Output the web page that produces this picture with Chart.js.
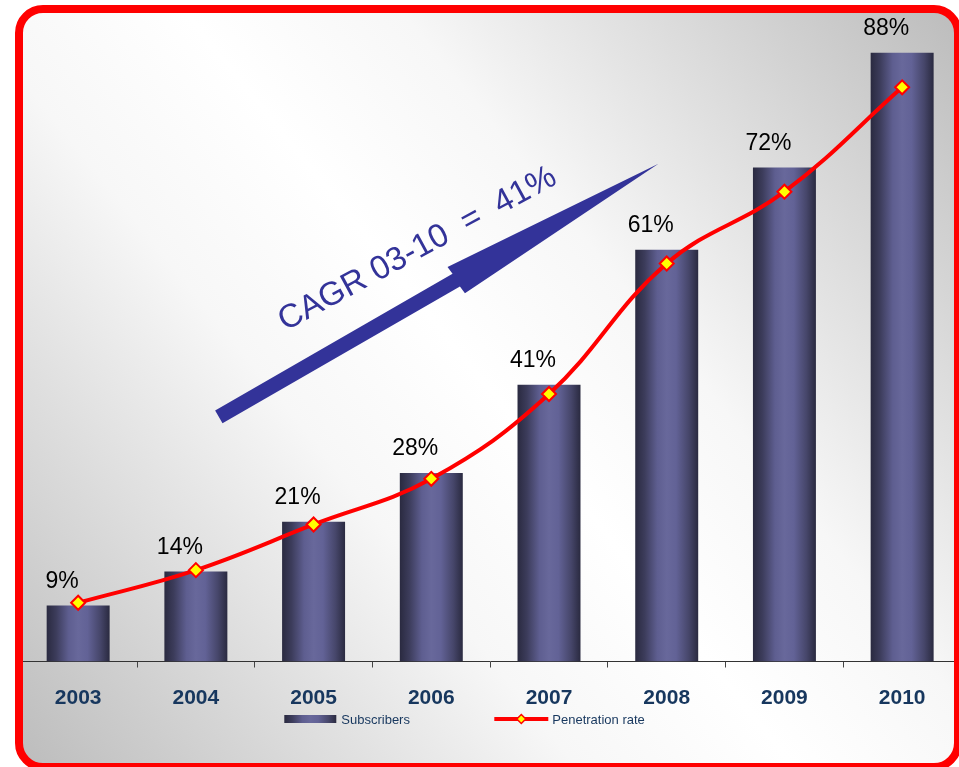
<!DOCTYPE html>
<html>
<head>
<meta charset="utf-8">
<script src="https://cdn.jsdelivr.net/npm/chart.js@4/dist/chart.umd.min.js"></script>
<style>
html,body{margin:0;padding:0;background:#fff;overflow:hidden;width:959px;height:767px}
#wrap{position:absolute;left:0;top:0;width:970px;height:767px}
canvas{display:block}
</style>
</head>
<body>
<div id="wrap"><canvas id="c" width="970" height="767"></canvas></div>
<script>
// ---- data ----
const years = ['2003', '2004', '2005', '2006', '2007', '2008', '2009', '2010'];
// subscribers: relative bar heights (the unit is not shown in the chart)
const subscribers = [8.6, 13.8, 21.4, 28.9, 42.4, 63.1, 75.7, 93.3];
// penetration rate, %
const penetration = [9, 14, 21, 28, 41, 61, 72, 88];
const penetrationLabels = ['9%', '14%', '21%', '28%', '41%', '61%', '72%', '88%'];
const seriesNames = ['Subscribers', 'Penetration rate'];
const cagrText = 'CAGR 03-10  =  41%';

// ---- styling ----
const FONT = "'Liberation Sans', Arial, Helvetica, sans-serif";
const BAR_PCT = 0.535;
const NAVY = '#17375e';

function barStops(g) {
  g.addColorStop(0.00, '#2a2a40');
  g.addColorStop(0.15, '#3c3c5b');
  g.addColorStop(0.35, '#5e5e90');
  g.addColorStop(0.50, '#68689b');
  g.addColorStop(0.65, '#626296');
  g.addColorStop(0.85, '#46466a');
  g.addColorStop(1.00, '#2a2a40');
  return g;
}

function barFill(ctx) {
  const chart = ctx.chart;
  const xs = chart.scales && chart.scales.x;
  if (!xs || ctx.type !== 'data' || !xs.width) return '#5e5e90';
  const cx = xs.getPixelForValue(ctx.dataIndex);
  const half = (xs.width / years.length) * BAR_PCT / 2;
  return barStops(chart.ctx.createLinearGradient(cx - half, 0, cx + half, 0));
}

function roundRectSub(c, x0, y0, x1, y1, r) {
  c.moveTo(x0 + r, y0);
  c.lineTo(x1 - r, y0);
  c.arcTo(x1, y0, x1, y0 + r, r);
  c.lineTo(x1, y1 - r);
  c.arcTo(x1, y1, x1 - r, y1, r);
  c.lineTo(x0 + r, y1);
  c.arcTo(x0, y1, x0, y1 - r, r);
  c.lineTo(x0, y0 + r);
  c.arcTo(x0, y0, x0 + r, y0, r);
  c.closePath();
}
const FRAME = {x0: 19, y0: 9, x1: 958, y1: 767, r: 24};

const framePlugin = {
  id: 'frame',
  beforeDraw(chart) {
    const c = chart.ctx;
    c.save();
    c.fillStyle = '#ffffff';
    c.fillRect(0, 0, chart.width, chart.height);
    const g = c.createLinearGradient(FRAME.x1, FRAME.y0, FRAME.x0, FRAME.y1);
    g.addColorStop(0.00, '#bcbcbc');
    g.addColorStop(0.36, '#f7f7f7');
    g.addColorStop(0.50, '#ffffff');
    g.addColorStop(0.64, '#f7f7f7');
    g.addColorStop(1.00, '#bcbcbc');
    c.beginPath();
    roundRectSub(c, FRAME.x0, FRAME.y0, FRAME.x1, FRAME.y1, FRAME.r);
    c.fillStyle = g;
    c.fill();
    c.restore();
  },
  afterDraw(chart) {
    const c = chart.ctx;
    const area = chart.chartArea;
    // legend
    c.save();
    const ly = 719;
    const lx = area.left + 265;
    c.fillStyle = barStops(c.createLinearGradient(lx, 0, lx + 52, 0));
    c.fillRect(lx, ly - 4, 52, 8);
    c.font = '13px ' + FONT;
    c.fillStyle = NAVY;
    c.textBaseline = 'middle';
    c.textAlign = 'left';
    c.fillText(seriesNames[0], lx + 57, ly + 1);
    const lx2 = lx + 210;
    c.strokeStyle = '#ff0000';
    c.lineWidth = 4;
    c.beginPath();
    c.moveTo(lx2, ly);
    c.lineTo(lx2 + 54, ly);
    c.stroke();
    const dx = lx2 + 27;
    c.beginPath();
    c.moveTo(dx, ly - 4.5); c.lineTo(dx + 4.5, ly); c.lineTo(dx, ly + 4.5); c.lineTo(dx - 4.5, ly); c.closePath();
    c.fillStyle = '#ffff00';
    c.fill();
    c.lineWidth = 1.5;
    c.stroke();
    c.fillStyle = NAVY;
    c.fillText(seriesNames[1], lx2 + 58, ly + 1);
    c.restore();

    // white outside the frame, then red frame
    c.save();
    c.beginPath();
    c.rect(0, 0, chart.width, chart.height);
    roundRectSub(c, FRAME.x0, FRAME.y0, FRAME.x1, FRAME.y1, FRAME.r);
    c.fillStyle = '#ffffff';
    c.fill('evenodd');
    c.beginPath();
    roundRectSub(c, FRAME.x0, FRAME.y0, FRAME.x1, FRAME.y1, FRAME.r);
    c.strokeStyle = '#ff0000';
    c.lineWidth = 8;
    c.stroke();
    c.restore();
  }
};

const labelPlugin = {
  id: 'barLabels',
  afterDatasetsDraw(chart) {
    const c = chart.ctx;
    const meta = chart.getDatasetMeta(1);
    c.save();
    c.font = '23px ' + FONT;
    c.fillStyle = '#000000';
    c.textAlign = 'center';
    c.textBaseline = 'middle';
    meta.data.forEach((el, i) => {
      c.fillText(penetrationLabels[i], el.x - 16, el.y - 24);
    });
    c.restore();
  }
};

const arrowPlugin = {
  id: 'cagrArrow',
  afterDatasetsDraw(chart) {
    const xs = chart.scales.x, ys = chart.scales.y1;
    const c = chart.ctx;
    const tx = xs.getPixelForValue(1.195), ty = ys.getPixelForValue(37.5);
    const hx = xs.getPixelForValue(4.93), hy = ys.getPixelForValue(76.3);
    const L = Math.hypot(hx - tx, hy - ty);
    const ang = Math.atan2(hy - ty, hx - tx);
    c.save();
    c.translate(tx, ty);
    c.rotate(ang);
    const sw = 7.4, hw = 15.7, hb = L * 0.54;
    c.beginPath();
    c.moveTo(0, -sw);
    c.lineTo(hb, -sw);
    c.lineTo(hb - 1, -hw);
    c.lineTo(L, 0);
    c.lineTo(hb + 1, hw);
    c.lineTo(hb, sw);
    c.lineTo(0, sw);
    c.closePath();
    c.fillStyle = '#333399';
    c.fill();
    c.restore();

    const sx = xs.getPixelForValue(1.76), sy = ys.getPixelForValue(50.6);
    c.save();
    c.translate(sx, sy);
    c.rotate(-28.5 * Math.PI / 180);
    c.font = '33px ' + FONT;
    c.fillStyle = '#333399';
    c.textAlign = 'left';
    c.textBaseline = 'alphabetic';
    c.fillText(cagrText, 0, 0);
    c.restore();
  }
};

new Chart(document.getElementById('c'), {
  data: {
    labels: years,
    datasets: [
      {
        type: 'line',
        label: seriesNames[1],
        data: penetration,
        yAxisID: 'y1',
        order: 0,
        borderColor: '#ff0000',
        borderWidth: 4,
        tension: 0.4,
        pointStyle: 'rectRot',
        pointRadius: 7,
        pointBackgroundColor: '#ffff00',
        pointBorderColor: '#ff0000',
        pointBorderWidth: 2
      },
      {
        type: 'bar',
        label: seriesNames[0],
        data: subscribers,
        yAxisID: 'y',
        order: 1,
        backgroundColor: barFill,
        borderWidth: 0,
        categoryPercentage: 1,
        barPercentage: BAR_PCT
      }
    ]
  },
  options: {
    responsive: false,
    animation: false,
    devicePixelRatio: 1,
    layout: {padding: {left: 19.3, right: 3.5, top: 8, bottom: 37.3}},
    plugins: {legend: {display: false}, tooltip: {enabled: false}},
    scales: {
      x: {
        offset: true,
        grid: {display: true, offset: true, drawOnChartArea: false, drawTicks: true, tickLength: 6, color: '#444', lineWidth: 1},
        border: {display: true, color: '#333', width: 1},
        ticks: {autoSkip: false, maxRotation: 0, padding: 18.5, color: NAVY, font: {family: FONT, size: 21, weight: 'bold'}}
      },
      y: {display: false, min: 0, max: 100},
      y1: {display: false, min: 0, max: 100}
    }
  },
  plugins: [framePlugin, labelPlugin, arrowPlugin]
});
</script>
</body>
</html>
